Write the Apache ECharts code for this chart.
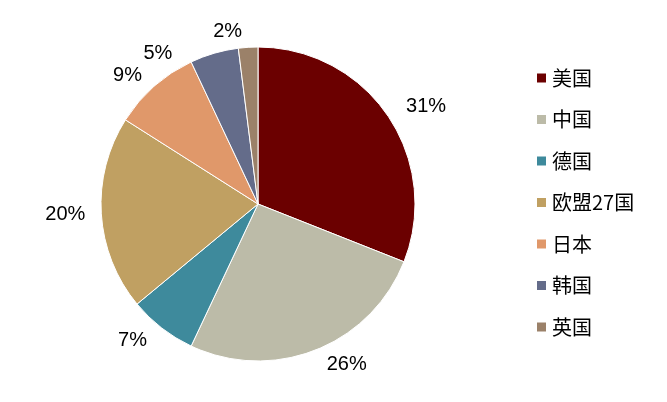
<!DOCTYPE html>
<html><head><meta charset="utf-8">
<script src="https://cdn.jsdelivr.net/npm/echarts@6/dist/echarts.min.js"></script>
<style>html,body{margin:0;background:#fff}#c{width:667px;height:402px}</style>
</head><body><div id="c"></div>
<script>
var names = ['美国', '中国', '德国', '欧盟27国', '日本', '韩国', '英国'];
var values = [31, 26, 7, 20, 9, 5, 2];
var colors = ['#6b0000', '#bcbba8', '#3e8a9c', '#c0a062', '#e0986a', '#646c8a', '#9b8169'];

var chart = echarts.init(document.getElementById('c'));
chart.setOption({
    animation: false,
    color: colors,
    legend: {
        orient: 'vertical',
        left: 530,
        top: 63,
        itemGap: 21.5,
        itemWidth: 11,
        itemHeight: 11,
        icon: 'rect',
        textStyle: { fontSize: 20, color: '#000', fontFamily: 'Noto Sans CJK SC' },
        data: names
    },
    series: [{
        type: 'pie',
        center: [258, 204],
        radius: 157,
        startAngle: 90,
        clockwise: true,
        itemStyle: { borderColor: '#fff', borderWidth: 1 },
        label: {
            position: 'outside',
            formatter: '{c}%',
            fontSize: 20,
            color: '#000',
            fontFamily: 'Arial, Liberation Sans'
        },
        labelLine: { show: false, length: 16, length2: 0 },
        data: names.map(function (n, i) { return { name: n, value: values[i] }; })
    }]
});
</script></body></html>
